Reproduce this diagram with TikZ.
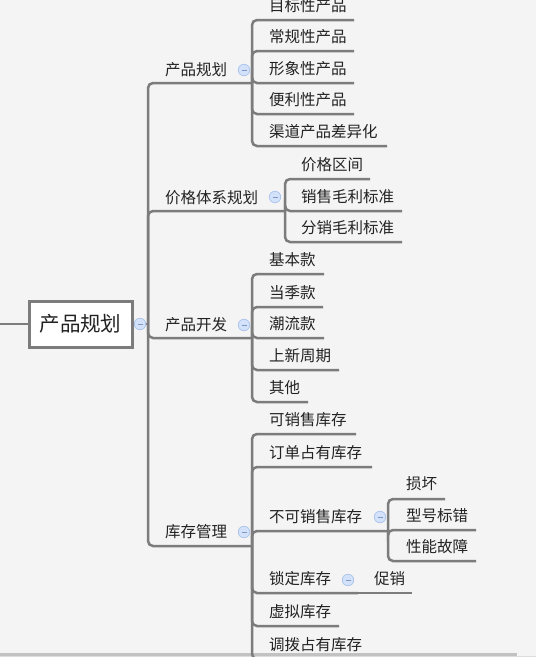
\documentclass[tikz,border=0pt]{standalone}
\usepackage{fontspec}
\newfontfamily\cjk{Noto Sans CJK SC}
\definecolor{bgc}{HTML}{F4F4F4}
\definecolor{linec}{HTML}{7C7C7C}
\definecolor{textc}{HTML}{222222}
\definecolor{togf}{HTML}{D3E2FA}
\definecolor{togb}{HTML}{A9C3EC}
\definecolor{togm}{HTML}{7F97C0}
\definecolor{barc}{HTML}{C2C2C2}
\definecolor{barl}{HTML}{DCDCDC}
\newcommand{\togminus}{\textcolor{togm}{\rule[-0.5pt]{5pt}{1pt}}}
\tikzset{
  conn/.style={draw=linec, line width=2.5pt, rounded corners=5pt},
  txt/.style={anchor=west, inner sep=0pt, font=\cjk\fontsize{15.5}{18}\selectfont, text=textc},
  tog/.style={circle, draw=togb, fill=togf, line width=0.7pt, minimum size=11.5pt, inner sep=0pt},
  central/.style={draw=linec, line width=3pt, fill=white, minimum width=103pt, minimum height=46pt,
    inner sep=0pt, font=\cjk\fontsize{20.5}{24}\selectfont, text=textc}
}
\begin{document}
\begin{tikzpicture}[x=1pt,y=-1pt]
\useasboundingbox (0,0) rectangle (536,657);
\clip (0,0) rectangle (536,657);
\fill[bgc] (0,0) rectangle (536,657);
\fill[barc] (0,653.3) rectangle (517,655.5);
\fill[barl] (0,655.5) rectangle (536,657);

% coordinates
\coordinate (lft) at (0,324);
\coordinate (tr) at (148,324);
\coordinate (j1) at (252,83);
\coordinate (j2) at (285,211);
\coordinate (j3) at (252,338);
\coordinate (j4) at (252,546);
\coordinate (j5) at (388,531);
% ends of children of 产品规划
\coordinate (a1) at (354,20);
\coordinate (a2) at (354,51);
\coordinate (a3) at (354,83);
\coordinate (a4) at (354,114);
\coordinate (a5) at (387,146);
% 价格体系规划
\coordinate (p1) at (370,179);
\coordinate (p2) at (402,211);
\coordinate (p3) at (402,242);
% 产品开发
\coordinate (d1) at (324,274);
\coordinate (d2) at (323,307);
\coordinate (d3) at (324,338);
\coordinate (d4) at (339,370);
\coordinate (d5) at (308,402);
% 库存管理
\coordinate (k1) at (356,434);
\coordinate (k2) at (372,467);
\coordinate (k4) at (358,593);
\coordinate (k4b) at (412,593);
\coordinate (k5) at (339,626);
\coordinate (k6) at (440,659);
% 不可销售库存
\coordinate (n1) at (445,499);
\coordinate (n2) at (476,530);
\coordinate (n3) at (476,561);

% connectors
\node[central] (cen) at (80.5,324) {产品规划};
\draw[conn] (lft) -- (cen.west);
\draw[conn] (cen.east) -- (tr);
\draw[conn] (tr) |- (j1);
\draw[conn] (tr) |- (j2);
\draw[conn] (tr) |- (j3);
\draw[conn] (tr) |- (j4);

\foreach \e in {a1,a2,a3,a4,a5} \draw[conn] (j1) |- (\e);
\foreach \e in {p1,p2,p3} \draw[conn] (j2) |- (\e);
\foreach \e in {d1,d2,d3,d4,d5} \draw[conn] (j3) |- (\e);
\foreach \e in {k1,k2,j5,k4,k5,k6} \draw[conn] (j4) |- (\e);
\draw[conn] (k4) -- (k4b);
\foreach \e in {n1,n2,n3} \draw[conn] (j5) |- (\e);

% toggles
\node[tog] (t0) at (140,324) {\togminus};
\node[tog] (tb1) at (244,70) {\togminus};
\node[tog] (tb2) at (275,197) {\togminus};
\node[tog] (tb3) at (244,325) {\togminus};
\node[tog] (tb4) at (244,532) {\togminus};
\node[tog] (tn) at (380,517) {\togminus};
\node[tog] (tl) at (348,580) {\togminus};

% branch labels
\node[txt] (b1) at (165,69.5) {产品规划};
\node[txt] (b2) at (165,197.5) {价格体系规划};
\node[txt] (b3) at (165,324.5) {产品开发};
\node[txt] (b4) at (165,531.5) {库存管理};

% leaves
\node[txt] (la1) at (269,6) {目标性产品};
\node[txt] (la2) at (269,37) {常规性产品};
\node[txt] (la3) at (269,69) {形象性产品};
\node[txt] (la4) at (269,100) {便利性产品};
\node[txt] (la5) at (269,132) {渠道产品差异化};

\node[txt] (lp1) at (301,165) {价格区间};
\node[txt] (lp2) at (301,197) {销售毛利标准};
\node[txt] (lp3) at (301,228) {分销毛利标准};

\node[txt] (ld1) at (269,260) {基本款};
\node[txt] (ld2) at (269,293) {当季款};
\node[txt] (ld3) at (269,324) {潮流款};
\node[txt] (ld4) at (269,356) {上新周期};
\node[txt] (ld5) at (269,388) {其他};

\node[txt] (lk1) at (269,420) {可销售库存};
\node[txt] (lk2) at (269,453) {订单占有库存};
\node[txt] (lk3) at (269,517) {不可销售库存};
\node[txt] (lk4) at (269,579) {锁定库存};
\node[txt] (lk4b) at (374,579) {促销};
\node[txt] (lk5) at (269,612) {虚拟库存};
\node[txt] (lk6) at (269,645) {调拨占有库存};

\node[txt] (ln1) at (406,484) {损坏};
\node[txt] (ln2) at (406,516) {型号标错};
\node[txt] (ln3) at (406,547) {性能故障};
\end{tikzpicture}
\end{document}
